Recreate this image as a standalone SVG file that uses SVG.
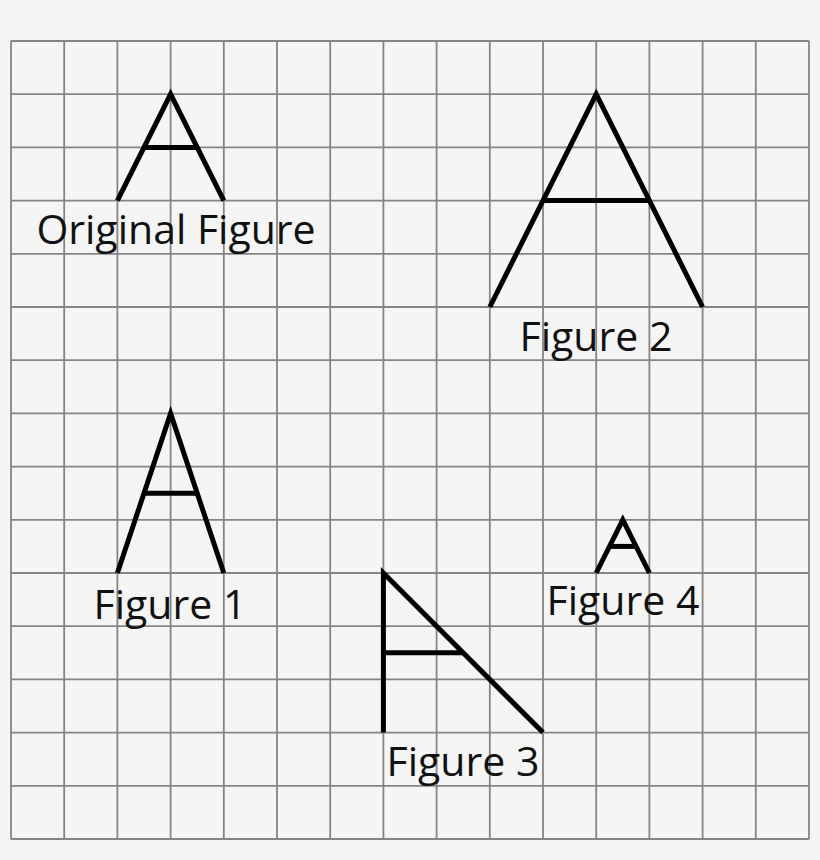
<svg xmlns="http://www.w3.org/2000/svg" width="820" height="860" viewBox="0 0 820 860">
<style>
.grid line{stroke:#858585;stroke-width:1.8}
.fig{fill:none;stroke:#000;stroke-width:5;stroke-linecap:butt;stroke-linejoin:miter}
.lbl{font-family:"Open Sans","Noto Sans",sans-serif;font-size:41px;fill:#111;text-anchor:middle}
</style>
<rect x="0" y="0" width="820" height="860" fill="#f5f5f5"/>
<g id="grid" class="grid">
<line x1="11" y1="41" x2="11" y2="839"/><line x1="64.2" y1="41" x2="64.2" y2="839"/><line x1="117.4" y1="41" x2="117.4" y2="839"/><line x1="170.6" y1="41" x2="170.6" y2="839"/><line x1="223.8" y1="41" x2="223.8" y2="839"/><line x1="277" y1="41" x2="277" y2="839"/><line x1="330.2" y1="41" x2="330.2" y2="839"/><line x1="383.4" y1="41" x2="383.4" y2="839"/><line x1="436.6" y1="41" x2="436.6" y2="839"/><line x1="489.8" y1="41" x2="489.8" y2="839"/><line x1="543" y1="41" x2="543" y2="839"/><line x1="596.2" y1="41" x2="596.2" y2="839"/><line x1="649.4" y1="41" x2="649.4" y2="839"/><line x1="702.6" y1="41" x2="702.6" y2="839"/><line x1="755.8" y1="41" x2="755.8" y2="839"/><line x1="809" y1="41" x2="809" y2="839"/>
<line x1="11" y1="41" x2="809" y2="41"/><line x1="11" y1="94.2" x2="809" y2="94.2"/><line x1="11" y1="147.4" x2="809" y2="147.4"/><line x1="11" y1="200.6" x2="809" y2="200.6"/><line x1="11" y1="253.8" x2="809" y2="253.8"/><line x1="11" y1="307" x2="809" y2="307"/><line x1="11" y1="360.2" x2="809" y2="360.2"/><line x1="11" y1="413.4" x2="809" y2="413.4"/><line x1="11" y1="466.6" x2="809" y2="466.6"/><line x1="11" y1="519.8" x2="809" y2="519.8"/><line x1="11" y1="573" x2="809" y2="573"/><line x1="11" y1="626.2" x2="809" y2="626.2"/><line x1="11" y1="679.4" x2="809" y2="679.4"/><line x1="11" y1="732.6" x2="809" y2="732.6"/><line x1="11" y1="785.8" x2="809" y2="785.8"/><line x1="11" y1="839" x2="809" y2="839"/>
</g>
<g id="original">
<polyline class="fig" points="117.4,200.6 170.6,94.2 223.8,200.6"/>
<line class="fig" x1="144" y1="147.4" x2="197.2" y2="147.4"/>
<text class="lbl" x="176" y="244">Original Figure</text>
</g>
<g id="figure2">
<polyline class="fig" points="489.8,307 596.2,94.2 702.6,307"/>
<line class="fig" x1="543" y1="200.6" x2="649.4" y2="200.6"/>
<text class="lbl" x="596" y="351">Figure 2</text>
</g>
<g id="figure1">
<polyline class="fig" points="117.4,573 170.6,413.4 223.8,573"/>
<line class="fig" x1="144" y1="493.2" x2="197.2" y2="493.2"/>
<text class="lbl" x="170" y="619">Figure 1</text>
</g>
<g id="figure3">
<polyline class="fig" points="383.4,732.6 383.4,573 543,732.6"/>
<line class="fig" x1="383.4" y1="652.8" x2="463.2" y2="652.8"/>
<text class="lbl" x="463" y="776">Figure 3</text>
</g>
<g id="figure4">
<polyline class="fig" points="596.2,573 622.8,519.8 649.4,573"/>
<line class="fig" x1="609.5" y1="546.4" x2="636.1" y2="546.4"/>
<text class="lbl" x="623" y="615">Figure 4</text>
</g>
</svg>
